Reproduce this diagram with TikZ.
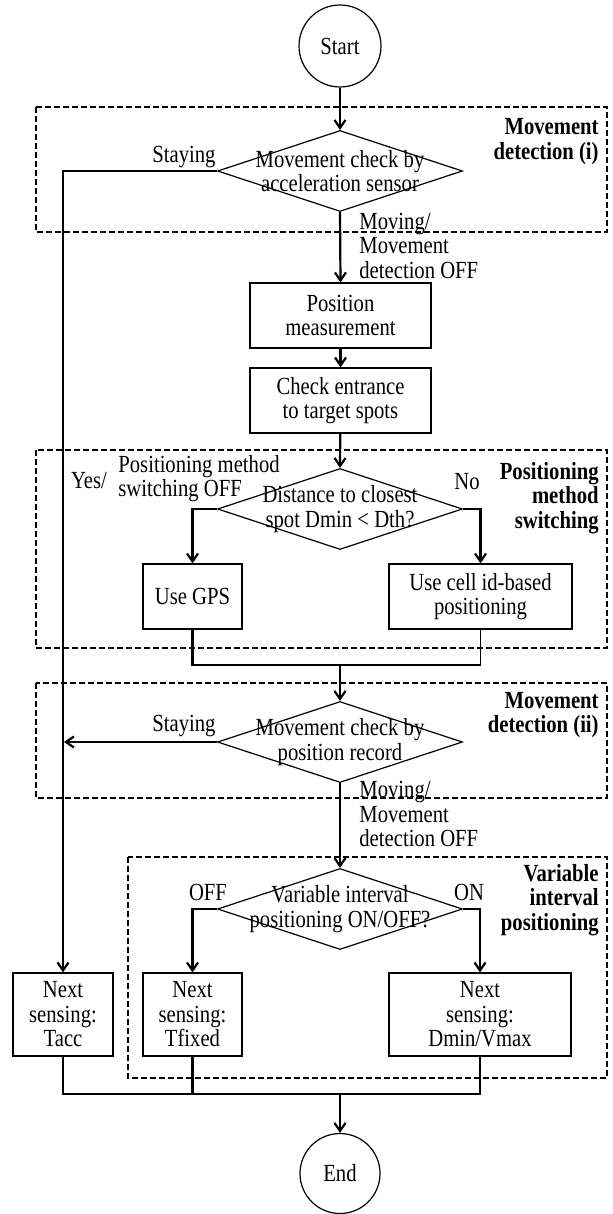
\documentclass[tikz,border=0pt]{standalone}
\usepackage{fontspec}
\setmainfont{Liberation Serif}[FakeStretch=0.84]
\usetikzlibrary{shapes.geometric,arrows.meta}
\begin{document}
\begin{tikzpicture}[x=0.5pt,y=-0.5pt,
  font=\fontsize{12.3}{12.25}\selectfont,
  every node/.style={inner sep=0pt},
  term/.style={circle,draw,line width=0.6pt,minimum size=41pt},
  box/.style={rectangle,draw,line width=0.6pt,align=center},
  dia/.style={diamond,draw,line width=0.6pt,minimum width=122.5pt,minimum height=40.5pt},
  grp/.style={draw,line width=1pt,dash pattern=on 3pt off 1.5pt},
  flow/.style={line width=1.1pt,-{Straight Barb[length=4pt,width=5.5pt]}},
  thickln/.style={line width=1.1pt},
  thinln/.style={line width=0.6pt},
  lbl/.style={align=center},
  grpt/.style={font=\fontsize{12.3}{12.25}\selectfont\bfseries,align=right,anchor=east}
]
\useasboundingbox (0,0) rectangle (613,1214);

% group frames
\draw[grp] (36,107) rectangle (607,232);
\draw[grp] (36,450) rectangle (607,648);
\draw[grp] (36,683) rectangle (607,798);
\draw[grp] (128,857) rectangle (607,1078);

% group titles
\node[grpt] (g1) at (599,141.5) {Movement\\detection (i)};
\node[grpt] (g2) at (599,498) {Positioning\\method\\switching};
\node[grpt] (g3) at (599,715) {Movement\\detection (ii)};
\node[grpt] (g4) at (599,900) {Variable\\interval\\positioning};

% nodes
\node[term] (start) at (340,46) {Start};
\node[dia] (d1) at (340,171) {};
\node[lbl] at (d1) {Movement check by\\acceleration sensor};
\node[box,minimum width=90.5pt,minimum height=32.5pt] (pm) at (340.5,315.5) {Position\\measurement};
\node[box,minimum width=90.5pt,minimum height=32.5pt] (ce) at (340.5,400.5) {Check entrance\\to target spots};
\node[dia] (d2) at (340,509) {};
\node[lbl] at (d2) {Distance to closest\\spot Dmin {<} Dth?};
\node[box,minimum width=49.5pt,minimum height=32.5pt] (gps) at (192.5,596.5) {Use GPS};
\node[box,minimum width=91.5pt,minimum height=32.5pt] (cell) at (480.5,596.5) {Use cell id-based\\positioning};
\node[dia] (d3) at (340,742) {};
\node[lbl] at (d3) {Movement check by\\position record};
\node[dia] (d4) at (340,909) {};
\node[lbl] at (d4) {Variable interval\\positioning ON/OFF?};
\node[box,minimum width=50pt,minimum height=41.5pt] (tacc) at (63,1014.5) {Next\\sensing:\\Tacc};
\node[box,minimum width=49.5pt,minimum height=41.5pt] (tfix) at (192.5,1014.5) {Next\\sensing:\\Tfixed};
\node[box,minimum width=91pt,minimum height=41.5pt] (dmin) at (480,1014.5) {Next\\sensing:\\Dmin/Vmax};
\node[term,minimum size=40pt] (end) at (340,1173.5) {End};

% edge labels
\node (l1) at (184,157) {Staying};
\node[anchor=west,align=left] (l2) at (359,245.5) {Moving/\\Movement\\detection OFF};
\node (l3) at (89,481) {Yes/};
\node[anchor=west,align=left] (l4) at (118,478.5) {Positioning method\\switching OFF};
\node (l5) at (467,482) {No};
\node (l6) at (184,726) {Staying};
\node[anchor=west,align=left] (l7) at (359,814) {Moving/\\Movement\\detection OFF};
\node (l8) at (208,892) {OFF};
\node (l9) at (469,892) {ON};

% coordinates
\coordinate (m1) at (340,665);
\coordinate (sl) at (64,742);
\coordinate (m2) at (340,1094);

% connectors
\draw[flow] (start) -- (d1);
\draw[flow] (d1.west) -| (tacc.north);
\draw[flow] (d1.south) -- (pm.north);
\draw[flow] (pm) -- (ce);
\draw[flow] (ce) -- (d2.north);
\draw[flow] (d2.west) -| (gps.north);
\draw[flow] (d2.east) -| (cell.north);
\draw[thickln] (gps.south) |- (m1);
\draw[thinln] (cell.south) |- (m1);
\draw[flow] (m1) -- (d3.north);
\draw[flow] (d3.west) -- (sl);
\draw[flow] (d3.south) -- (d4.north);
\draw[flow] (d4.west) -| (tfix.north);
\draw[flow] (d4.east) -| (dmin.north);
\draw[thinln] (tacc.south) |- (m2);
\draw[thickln] (tfix.south) |- (m2);
\draw[thinln] (dmin.south) |- (m2);
\draw[flow] (m2) -- (end.north);
\end{tikzpicture}
\end{document}
